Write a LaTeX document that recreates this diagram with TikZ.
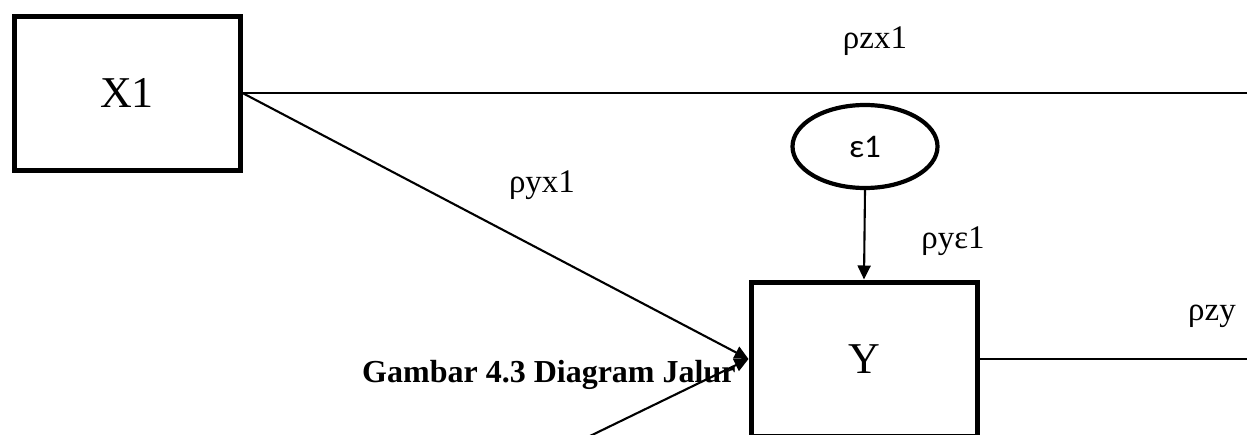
\documentclass[tikz,border=0pt]{standalone}
\usepackage{fontspec}
\setmainfont{Liberation Serif}
\newfontfamily\calib{Carlito}
\usetikzlibrary{arrows.meta,shapes.geometric}
\begin{document}
\begin{tikzpicture}[x=1pt,y=-1pt,
  varbox/.style={draw,line width=5pt,minimum width=226pt,minimum height=154pt,inner sep=0pt,font=\fontsize{44}{48}\selectfont},
  errnode/.style={draw,ellipse,line width=4.2pt,minimum width=145pt,minimum height=83pt,inner sep=0pt,font=\calib\fontsize{33}{37}\selectfont},
  path/.style={line width=2.1pt},
  patharrow/.style={path,-{Triangle[length=14pt,width=13pt]}},
  coef/.style={anchor=base,inner sep=0pt,font=\fontsize{33}{37}\selectfont},
  caption/.style={anchor=base west,inner sep=0pt,font=\bfseries\fontsize{32}{36}\selectfont}]
  \useasboundingbox (0,0) rectangle (1247,434);
  \begin{scope}
    \clip (0,0) rectangle (1247,434);
    % caption sits under the connectors
    \node[caption] (cap) at (362,382) {Gambar 4.3 Diagram Jalur};
    % variables
    \node[varbox] (x1) at (127,93) {X1};
    \node[varbox] (y) at (864,359) {Y};
    \node[errnode] (e1) at (865,146.5) {\raisebox{-8pt}{ε1}};
    % free ends of paths leaving the picture
    \coordinate (zx1) at (1250,93);
    \coordinate (zy) at (1250,359);
    \coordinate (x2) at (590,436);
    % connectors
    \draw[path] (x1.east) -- (zx1);
    \draw[patharrow] (x1.east) -- (y.west);
    \draw[patharrow] (x2) -- (y.west);
    \draw[patharrow] (e1.south) -- (y.north);
    \draw[path] (y.east) -- (zy);
    % path coefficients
    \node[coef] (lzx1) at (875,48) {ρzx1};
    \node[coef] (lyx1) at (542,192) {ρyx1};
    \node[coef] (lye1) at (953,248) {ρyε1};
    \node[coef] (lzy) at (1212,320) {ρzy};
  \end{scope}
\end{tikzpicture}
\end{document}
